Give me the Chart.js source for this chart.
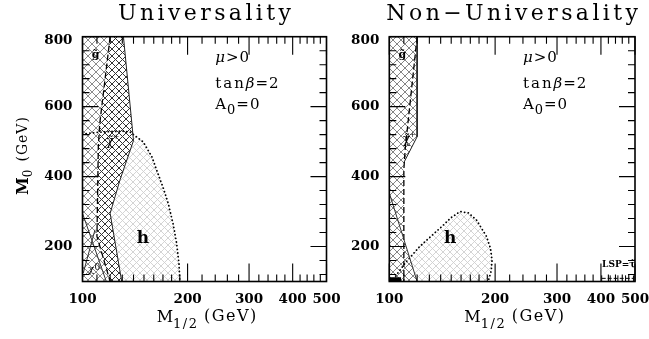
<!DOCTYPE html>
<html><head><meta charset="utf-8">
<script src="https://cdn.jsdelivr.net/npm/chart.js@4/dist/chart.umd.min.js"></script>
<style>
html,body{margin:0;padding:0;background:#fff;}
#wrap{position:relative;width:649px;height:339px;overflow:hidden;background:#fff;}
canvas{position:absolute;top:0;}
</style></head><body>
<div id="wrap">
<canvas id="c1" width="345" height="339" style="left:0;width:345px;height:339px"></canvas>
<canvas id="c2" width="304" height="339" style="left:345px;width:304px;height:339px"></canvas>
</div>
<script>
// ---------- axis ticks ----------
const xMajorTicks = [100, 200, 300, 400, 500];
const xTickLabels = ['100', '200', '300', '400', '500'];
const xMinorTicks = [110,120,130,140,150,160,170,180,190,220,240,260,280,320,340,360,380,420,440,460,480];
const yMajorTicks = [200, 400, 600, 800];
const yTickLabels = ['200', '400', '600', '800'];
const yMinorTicks = [120,160,240,280,320,360,440,480,520,560,640,680,720,760];

// ---------- Universality panel (M1/2, M0) ----------
const uniGluino   = [[100,800],[120,800],[112,550],[111,485],[110,229],[120,100],[100,100]];
const uniChargino = [[120,800],[131,800],[140,503],[128,390],[120,295],[129.5,100],[120,100],[110,229],[111,485],[112,550]];
const uniGluinoEdge   = [[120,800],[112,550],[111,485],[110,229],[120,100]];
const uniCharginoEdge = [[131,800],[140,503],[128,390],[120,295],[129.5,100]];
const uniNeutralinoA  = [[100,295],[117,100]];
const uniNeutralinoB  = [[108.6,248],[100.5,124]];
const uniHiggsCurve = [[100,522],[115,528],[130,530],[137,527],[142,515],[149,500],[158,457],[163,419],[170,370],[176,324],[182,262],[186,210],[189,150],[190,100]];

// ---------- Non-Universality panel ----------
const nonExcluded     = [[100,800],[120,800],[120,514],[110,440],[110,216],[120,100],[100,100]];
const nonExcludedEdge = [[120,800],[120,514],[110,440]];
const nonDiagonal     = [[100,353],[120,100]];
const nonGluinoEdge   = [[120,800],[111,480],[110,420],[110,100]];
const nonHiggsCurve = [[102.5,108],[104,114],[111,153],[122,200],[141,257],[150,283],[159,300],[168,296],[177,276],[189,229],[194,195],[196,162],[195,130],[191,100]];
const nonBlackBox = [[100,100],[108,100],[108,112],[100,112]];
const nonStauLine = [[402,109],[425,109],[447,109],[470,109],[495,109]];

// ---------- helpers ----------
const pts = arr => arr.map(([x, y]) => ({x, y}));
function hatch(size, color, lw) {
  const c = document.createElement('canvas');
  c.width = size; c.height = size;
  const g = c.getContext('2d');
  g.fillStyle = '#fff'; g.fillRect(0, 0, size, size);
  g.strokeStyle = color; g.lineWidth = lw;
  g.beginPath();
  g.moveTo(0, 0); g.lineTo(size, size);
  g.moveTo(size, 0); g.lineTo(0, size);
  g.stroke();
  return g.createPattern(c, 'repeat');
}
function area(arr, bg, order) {
  return {data: pts(arr), fill: 'shape', backgroundColor: bg, borderWidth: 0,
          borderColor: 'rgba(0,0,0,0)', pointRadius: 0, order};
}
function edge(arr, color, width, dash, order) {
  return {data: pts(arr), fill: false, borderColor: color, borderWidth: width,
          borderDash: dash || [], pointRadius: 0, order: order || 1, borderCapStyle: 'butt'};
}
function dotted(arr) {
  return {data: pts(arr), fill: false, borderColor: '#000', borderWidth: 1.8,
          borderDash: [0.1, 3.6], borderCapStyle: 'round', pointRadius: 0, order: 1};
}
const SERIF = '"DejaVu Serif", "Liberation Serif", serif';
function spaced(ctx, text, x, y, sp) {
  let cx = x;
  for (const ch of Array.from(text)) { ctx.fillText(ch, cx, y); cx += ctx.measureText(ch).width + sp; }
  return cx - x - sp;
}
function spacedWidth(ctx, text, sp) {
  let w = 0; const a = Array.from(text);
  for (const ch of a) w += ctx.measureText(ch).width;
  return w + sp * (a.length - 1);
}

function framePlugin(opt) {
  return {
    id: 'frame' + opt.id,
    afterDatasetsDraw(chart) {
      const ctx = chart.ctx, xs = chart.scales.x, ys = chart.scales.y, a = chart.chartArea;
      ctx.save();
      ctx.strokeStyle = '#000'; ctx.lineWidth = 1.1; ctx.setLineDash([]);
      ctx.beginPath();
      const xt = (v, L) => { const p = xs.getPixelForValue(v);
        ctx.moveTo(p, a.bottom); ctx.lineTo(p, a.bottom - L); ctx.moveTo(p, a.top); ctx.lineTo(p, a.top + L); };
      const yt = (v, L) => { const p = ys.getPixelForValue(v);
        ctx.moveTo(a.left, p); ctx.lineTo(a.left + L, p); ctx.moveTo(a.right, p); ctx.lineTo(a.right - L, p); };
      xMinorTicks.forEach(v => xt(v, 7));
      xMajorTicks.forEach(v => xt(v, 18));
      yMinorTicks.forEach(v => yt(v, 7));
      yMajorTicks.forEach(v => yt(v, 16));
      ctx.stroke();
      ctx.lineWidth = 1.6;
      ctx.strokeRect(a.left, a.top, a.right - a.left, a.bottom - a.top);
      ctx.restore();
    },
    afterDraw(chart) {
      const ctx = chart.ctx, xs = chart.scales.x, ys = chart.scales.y, a = chart.chartArea;
      const X = v => xs.getPixelForValue(v), Y = v => ys.getPixelForValue(v);
      ctx.save();
      ctx.fillStyle = '#000';
      // tick labels
      ctx.font = 'bold 13.5px ' + SERIF;
      ctx.textAlign = 'center'; ctx.textBaseline = 'alphabetic';
      xMajorTicks.forEach((v, i) => ctx.fillText(xTickLabels[i], X(v), a.bottom + 21));
      ctx.textAlign = 'right'; ctx.textBaseline = 'middle';
      yMajorTicks.forEach((v, i) => ctx.fillText(yTickLabels[i], a.left - 10, Y(v) + (v === 800 ? 4 : 0)));
      // title
      ctx.font = '22px ' + SERIF; ctx.textAlign = 'left'; ctx.textBaseline = 'alphabetic';
      const tw = spacedWidth(ctx, opt.title, 3.4);
      spaced(ctx, opt.title, (a.left + a.right) / 2 - tw / 2, 20, 3.4);
      // x axis title
      {
        const cx = (a.left + a.right) / 2 + 2, by = 322;
        ctx.font = '16px ' + SERIF;
        const wM = ctx.measureText('M').width;
        ctx.font = '13px ' + SERIF; const wS = spacedWidth(ctx, '1/2', 1.5);
        ctx.font = '16px ' + SERIF; const wG = spacedWidth(ctx, '(GeV)', 1.5);
        const tot = wM + wS + 7 + wG;
        let x0 = cx - tot / 2;
        ctx.font = '16px ' + SERIF; ctx.fillText('M', x0, by); x0 += wM;
        ctx.font = '13px ' + SERIF; spaced(ctx, '1/2', x0, by + 6, 1.5); x0 += wS + 7;
        ctx.font = '16px ' + SERIF; spaced(ctx, '(GeV)', x0, by - 1, 1.5);
      }
      // y axis title
      if (opt.yTitle) {
        ctx.save();
        ctx.translate(28, 156); ctx.rotate(-Math.PI / 2);
        ctx.font = 'bold 16px ' + SERIF; const wM = ctx.measureText('M').width;
        ctx.font = '12px ' + SERIF; const w0 = ctx.measureText('0').width;
        ctx.font = '14px ' + SERIF; const wG = spacedWidth(ctx, '(GeV)', 1);
        const tot = wM + w0 + 8 + wG;
        let x0 = -tot / 2;
        ctx.font = 'bold 16px ' + SERIF; ctx.fillText('M', x0, 0); x0 += wM;
        ctx.font = '12px ' + SERIF; ctx.fillText('0', x0, 4); x0 += w0 + 8;
        ctx.font = '14px ' + SERIF; spaced(ctx, '(GeV)', x0, -1, 1);
        ctx.restore();
      }
      // parameter block
      {
        const x0 = X(240);
        ctx.textAlign = 'left'; ctx.textBaseline = 'alphabetic';
        let x = x0, y = Y(745) + 6;
        ctx.font = 'italic 15px ' + SERIF; ctx.fillText('μ', x, y); x += ctx.measureText('μ').width + 1;
        ctx.font = '15px ' + SERIF; spaced(ctx, '>0', x, y, 1);
        x = x0; y = Y(670) + 6;
        ctx.font = '15px ' + SERIF; x += spaced(ctx, 'tan', x, y, 2) + 2;
        ctx.font = 'italic 15px ' + SERIF; ctx.fillText('β', x, y); x += ctx.measureText('β').width + 1;
        ctx.font = '15px ' + SERIF; spaced(ctx, '=2', x, y, 1);
        x = x0; y = Y(605) + 4;
        ctx.font = '15px ' + SERIF; ctx.fillText('A', x, y); x += ctx.measureText('A').width + 1;
        ctx.font = '13px ' + SERIF; ctx.fillText('0', x, y + 5); x += ctx.measureText('0').width + 1;
        ctx.font = '15px ' + SERIF; spaced(ctx, '=0', x, y, 1);
      }
      // region labels
      ctx.textAlign = 'center'; ctx.textBaseline = 'middle';
      ctx.font = 'bold 11px ' + SERIF;
      ctx.fillText('g\u0303', X(109), Y(748));
      ctx.font = '12px ' + SERIF;
      ctx.fillText('χ\u0303', X(opt.charX), Y(opt.charY));
      ctx.font = '8px ' + SERIF;
      ctx.fillText('+', X(opt.charX) + 6, Y(opt.charY) - 5);
      ctx.font = 'bold 17px ' + SERIF;
      ctx.fillText('h', X(149), Y(224));
      if (opt.neutralino) {
        ctx.font = '10px ' + SERIF;
        ctx.fillText('χ', X(106), Y(136));
        ctx.font = '9px ' + SERIF;
        ctx.fillText('0', X(106) + 6, Y(136) - 1);
      }
      if (opt.stau) {
        ctx.font = 'bold 9px ' + SERIF;
        ctx.textAlign = 'left';
        ctx.fillText('LSP=τ\u0303', X(403), Y(148));
      }
      ctx.restore();
    }
  };
}

function makePanel(id, pad, datasets, opt) {
  return new Chart(document.getElementById(id), {
    type: 'line',
    data: {datasets},
    options: {
      responsive: false, animation: false, maintainAspectRatio: false,
      devicePixelRatio: 1,
      layout: {padding: pad},
      scales: {
        x: {type: 'logarithmic', min: 100, max: 500, display: false},
        y: {type: 'linear', min: 100, max: 800, display: false}
      },
      plugins: {legend: {display: false}, tooltip: {enabled: false}},
      elements: {point: {radius: 0, hoverRadius: 0}, line: {tension: 0}},
      events: []
    },
    plugins: [framePlugin(opt)]
  });
}

const pGluino = hatch(8, '#8c8c8c', 1);
const pChar = hatch(7, '#333', 1);
const pHiggs = hatch(7, '#cfcfcf', 0.9);
const pNon = hatch(8, '#858585', 1);

makePanel('c1', {left: 82.5, right: 18.5, top: 36.7, bottom: 57.5}, [
  area([[100,100], ...uniHiggsCurve], pHiggs, 6),
  area(uniGluino, pGluino, 5),
  area(uniChargino, pChar, 4),
  edge(uniCharginoEdge, '#222', 1),
  edge(uniGluinoEdge, '#000', 1.3, [6, 3]),
  edge(uniNeutralinoA, '#333', 1),
  edge(uniNeutralinoB, '#333', 1),
  dotted(uniHiggsCurve)
], {id: 1, title: 'Universality', yTitle: true, charX: 120, charY: 500, neutralino: true});

makePanel('c2', {left: 44.3, right: 14, top: 36.7, bottom: 57.5}, [
  area([...nonHiggsCurve, [102.5,100]], pHiggs, 6),
  area(nonExcluded, pNon, 5),
  area(nonBlackBox, '#000', 4),
  edge(nonExcludedEdge, '#222', 1),
  edge(nonDiagonal, '#333', 1),
  edge(nonGluinoEdge, '#000', 1.3, [6, 3]),
  dotted(nonHiggsCurve),
  {data: pts(nonStauLine), fill: false, borderColor: '#000', borderWidth: 1, borderDash: [4, 2],
   pointStyle: 'line', pointRadius: 3, pointRotation: 90, pointBorderColor: '#000',
   pointBorderWidth: 1, pointBackgroundColor: '#000', order: 1}
], {id: 2, title: 'Non\u2212Universality', yTitle: false, charX: 112, charY: 505, stau: true});
</script>
</body></html>
